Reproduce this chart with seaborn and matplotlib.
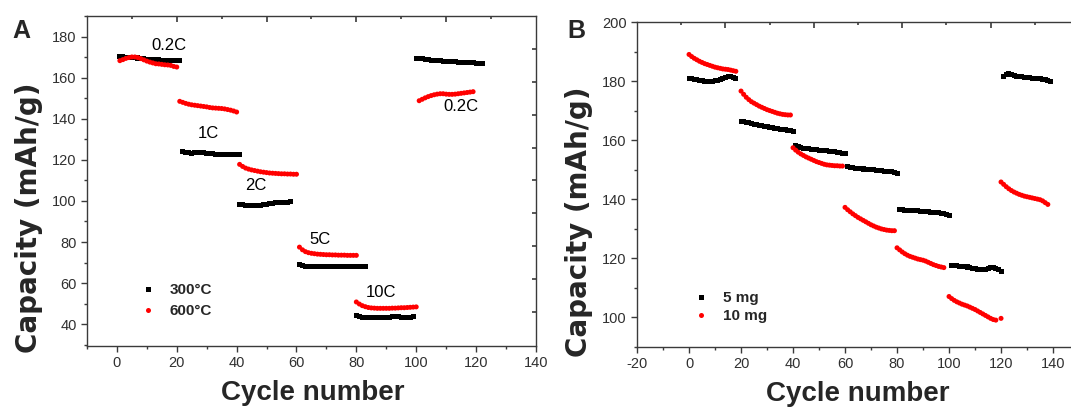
import numpy as np
import pandas as pd
import matplotlib
matplotlib.use("Agg")
import matplotlib.pyplot as plt
from matplotlib.lines import Line2D
from matplotlib.ticker import MultipleLocator, FixedLocator
import seaborn as sns

# ---------------- Panel A: rate capability, two annealing temperatures ----------------
a_labels = ["300°C", "600°C"]
a_colors = ["black", "red"]
a_markers = ["s", "o"]

# 300 °C sample: (first cycle, capacities) per current-rate step
a300_starts = [1, 22, 41, 61, 80, 100]
a300_caps = [
    [170.2, 170.1, 170.0, 170.0, 169.9, 169.8, 169.6, 169.5, 169.3, 169.1, 169.0,
     168.9, 168.8, 168.7, 168.6, 168.6, 168.5, 168.5, 168.4, 168.4, 168.3],
    [124.0, 123.8, 123.5, 123.3, 123.5, 123.7, 123.8, 123.6, 123.3, 123.0, 123.0,
     122.8, 122.6, 122.5, 122.6, 122.7, 122.6, 122.5, 122.5, 122.5],
    [98.5, 98.2, 98.0, 97.8, 97.7, 97.7, 97.8, 98.0, 98.2, 98.4, 98.6, 98.8, 99.0,
     99.1, 99.2, 99.3, 99.4, 99.6],
    [69.2, 68.6, 68.3, 68.1, 68.0, 68.0, 67.9, 67.9, 67.9, 67.9, 67.9, 67.9, 67.9,
     68.0, 68.0, 68.0, 68.0, 68.0, 68.1, 68.2, 68.3, 68.3, 68.3],
    [44.3, 43.8, 43.4, 43.2, 43.1, 43.0, 43.0, 43.1, 43.2, 43.3, 43.3, 43.4, 43.6,
     43.7, 43.6, 43.3, 43.0, 43.2, 43.4, 43.5],
    [169.5, 169.4, 169.3, 169.1, 169.0, 168.6, 168.4, 168.3, 168.2, 168.1, 168.0,
     167.9, 167.8, 167.7, 167.6, 167.5, 167.4, 167.3, 167.2, 167.2, 167.1, 167.0, 166.9],
]

# 600 °C sample
a600_starts = [1, 21, 41, 61, 80, 101]
a600_caps = [
    [168.3, 168.8, 169.4, 169.8, 170.1, 170.1, 169.8, 169.3, 168.7, 168.1, 167.6,
     167.2, 166.8, 166.7, 166.5, 166.3, 166.2, 166.0, 165.5, 165.2],
    [148.5, 148.0, 147.5, 147.1, 146.8, 146.6, 146.4, 146.2, 146.0, 145.8, 145.5,
     145.3, 145.2, 145.1, 145.0, 144.8, 144.5, 144.2, 143.8, 143.3],
    [117.8, 116.8, 116.0, 115.5, 115.1, 114.8, 114.5, 114.2, 114.0, 113.8, 113.6,
     113.5, 113.4, 113.3, 113.2, 113.2, 113.1, 113.1, 113.0, 113.0],
    [77.5, 76.2, 75.3, 74.8, 74.5, 74.3, 74.1, 74.0, 73.9, 73.8, 73.8, 73.7, 73.7,
     73.6, 73.6, 73.6, 73.5, 73.5, 73.5, 73.5],
    [50.8, 49.8, 49.0, 48.5, 48.1, 47.9, 47.8, 47.7, 47.7, 47.7, 47.7, 47.7, 47.8,
     47.8, 47.9, 48.0, 48.0, 48.1, 48.2, 48.3, 48.4],
    [148.8, 149.5, 150.2, 150.8, 151.3, 151.7, 152.0, 152.2, 152.2, 152.0, 151.9,
     151.9, 152.0, 152.2, 152.4, 152.6, 152.8, 153.0, 153.2],
]

a_rate_text = ["0.2C", "1C", "2C", "5C", "10C", "0.2C"]
a_rate_x = [17.3, 30.7, 46.3, 68.0, 88.2, 115.0]
a_rate_y = [175.9, 132.7, 107.3, 81.0, 55.6, 146.0]

# mirrored tick positions on the top/right frame edges
a_top_major = [20, 50, 80, 110]
a_top_minor = [5, 35, 65, 95, 125]
a_right_ticks = [174, 158, 142, 126, 110, 94, 78, 62, 46]

# ---------------- Panel B: two mass loadings ----------------
b_labels = ["5 mg", "10 mg"]
b_colors = ["black", "red"]
b_markers = ["s", "o"]

b5_starts = [0, 20, 41, 61, 81, 101, 121]
b5_caps = [
    [181.0, 180.8, 180.6, 180.4, 180.2, 180.1, 180.0, 180.0, 180.0, 180.0, 180.1,
     180.3, 180.6, 180.9, 181.3, 181.6, 181.7, 181.3, 181.0],
    [166.4, 166.2, 166.0, 165.8, 165.6, 165.4, 165.3, 165.1, 164.9, 164.7, 164.5,
     164.3, 164.1, 163.9, 163.8, 163.7, 163.6, 163.5, 163.4, 163.1, 162.8],
    [158.0, 157.7, 157.5, 157.3, 157.1, 157.0, 156.9, 156.8, 156.7, 156.6, 156.5,
     156.4, 156.3, 156.2, 156.1, 156.0, 155.9, 155.7, 155.5, 155.3],
    [151.0, 150.8, 150.6, 150.5, 150.4, 150.3, 150.2, 150.1, 150.0, 150.0, 149.9,
     149.8, 149.7, 149.6, 149.5, 149.4, 149.3, 149.2, 149.1, 148.7],
    [136.5, 136.4, 136.3, 136.2, 136.2, 136.1, 136.0, 136.0, 135.9, 135.8, 135.8,
     135.7, 135.6, 135.5, 135.4, 135.3, 135.1, 135.0, 134.8, 134.6],
    [117.6, 117.5, 117.4, 117.3, 117.2, 117.1, 117.0, 116.8, 116.6, 116.4, 116.3,
     116.2, 116.2, 116.3, 116.5, 116.8, 116.9, 116.5, 116.0, 115.6],
    [181.7, 182.2, 182.4, 182.1, 181.8, 181.6, 181.5, 181.4, 181.3, 181.2, 181.1,
     181.0, 181.0, 180.9, 180.8, 180.6, 180.4, 180.2, 180.0],
]

b10_starts = [0, 20, 40, 60, 80, 100, 120, 120]
b10_caps = [
    [189.0, 188.3, 187.7, 187.2, 186.7, 186.3, 185.9, 185.6, 185.3, 185.0, 184.7,
     184.5, 184.3, 184.1, 184.0, 183.9, 183.7, 183.5, 183.3],
    [176.6, 175.5, 174.5, 173.7, 173.0, 172.5, 172.0, 171.5, 171.1, 170.7, 170.3,
     170.0, 169.7, 169.4, 169.1, 168.9, 168.7, 168.6, 168.5, 168.5],
    [157.4, 156.6, 155.9, 155.3, 154.8, 154.3, 153.9, 153.5, 153.1, 152.7, 152.4,
     152.1, 151.8, 151.6, 151.5, 151.4, 151.3, 151.3, 151.2, 151.2],
    [137.2, 136.4, 135.7, 135.0, 134.4, 133.8, 133.3, 132.8, 132.3, 131.8, 131.3,
     130.9, 130.5, 130.2, 129.9, 129.7, 129.5, 129.4, 129.3, 129.3],
    [123.5, 122.8, 122.1, 121.5, 121.0, 120.6, 120.3, 120.0, 119.7, 119.5, 119.3,
     119.0, 118.6, 118.2, 117.8, 117.5, 117.2, 117.0, 116.8],
    [107.0, 106.3, 105.7, 105.2, 104.8, 104.4, 104.1, 103.8, 103.4, 103.0, 102.6,
     102.1, 101.6, 101.1, 100.6, 100.1, 99.6, 99.2, 99.0],
    [99.6],
    [145.8, 145.0, 144.2, 143.5, 142.9, 142.4, 142.0, 141.6, 141.3, 141.0, 140.8,
     140.6, 140.4, 140.2, 140.0, 139.8, 139.4, 138.8, 138.2],
]

b_top_major = [14, 48, 82, 116]
b_top_minor = [-3, 31, 65, 99, 133]


def build_frame(series):
    rows = []
    for label, starts, caps in series:
        for s0, seg in zip(starts, caps):
            for i, v in enumerate(seg):
                rows.append((s0 + i, v, label))
    return pd.DataFrame(rows, columns=["cycle", "capacity", "sample"])


df_a = build_frame([(a_labels[0], a300_starts, a300_caps),
                    (a_labels[1], a600_starts, a600_caps)])
df_b = build_frame([(b_labels[0], b5_starts, b5_caps),
                    (b_labels[1], b10_starts, b10_caps)])

sns.set_theme(style="ticks")
plt.rcParams["font.family"] = ["Liberation Sans", "DejaVu Sans"]
plt.rcParams["axes.linewidth"] = 1.0
plt.rcParams["axes.unicode_minus"] = False

spine_col = "#3a3a3a"
tick_col = "#303030"
DPI = 100

fig = plt.figure(figsize=(10.71, 4.12), dpi=DPI)
ax_a = fig.add_axes([0.0812, 0.1609, 0.4192, 0.8010])
ax_b = fig.add_axes([0.5948, 0.1585, 0.4127, 0.7881])


def draw_panel(ax, df, labels, colors, markers):
    sns.scatterplot(data=df, x="cycle", y="capacity", hue="sample", style="sample",
                    hue_order=labels, style_order=labels,
                    palette=dict(zip(labels, colors)),
                    markers=dict(zip(labels, markers)),
                    s=13, linewidth=0, legend=False, ax=ax, zorder=3)


def style_axes(ax):
    for sp in ax.spines.values():
        sp.set_color(spine_col)
        sp.set_linewidth(1.0)
    ax.tick_params(axis="both", which="both", direction="out", colors=spine_col,
                   labelcolor=tick_col, labelsize=10.5, top=False, right=False,
                   bottom=True, left=True)
    ax.tick_params(axis="both", which="major", length=4, width=1.0, pad=3.5)
    ax.tick_params(axis="both", which="minor", length=2.5, width=1.0)
    ax.set_xlabel("Cycle number", fontsize=20, fontweight="bold",
                  family="Liberation Sans")
    ax.set_ylabel("Capacity (mAh/g)", fontsize=20, fontweight="bold",
                  family="DejaVu Sans")


def top_ticks(ax, positions, length_px):
    # inward tick marks hanging from the top frame edge
    h = length_px / (ax.get_position().height * fig.get_figheight() * DPI)
    ax.vlines(positions, 1 - h, 1, transform=ax.get_xaxis_transform(),
              colors=spine_col, linewidth=1.2, clip_on=False, zorder=4)


def right_ticks(ax, positions, length_px):
    # inward tick marks on the right frame edge
    w = length_px / (ax.get_position().width * fig.get_figwidth() * DPI)
    ax.hlines(positions, 1 - w, 1, transform=ax.get_yaxis_transform(),
              colors=spine_col, linewidth=1.2, clip_on=False, zorder=4)


# ---- Panel A ----
draw_panel(ax_a, df_a, a_labels, a_colors, a_markers)
ax_a.set_xlim(-10, 140)
ax_a.set_ylim(29.5, 190.2)
ax_a.xaxis.set_major_locator(MultipleLocator(20))
ax_a.xaxis.set_minor_locator(MultipleLocator(10))
ax_a.yaxis.set_major_locator(FixedLocator([40, 60, 80, 100, 120, 140, 160, 180]))
ax_a.yaxis.set_minor_locator(FixedLocator([30, 50, 70, 90, 110, 130, 150, 170, 190]))
style_axes(ax_a)
ax_a.xaxis.set_label_coords(0.502, -0.104)
ax_a.yaxis.set_label_coords(-0.098, 0.388)
top_ticks(ax_a, a_top_major, 6)
top_ticks(ax_a, a_top_minor, 3)
right_ticks(ax_a, a_right_ticks, 4)

for t, x, y in zip(a_rate_text, a_rate_x, a_rate_y):
    ax_a.text(x, y, t, fontsize=12, ha="center", va="center", color="black")

handles_a = [Line2D([], [], ls="none", marker=m, color=c, markersize=3.6,
                    markeredgewidth=0) for m, c in zip(a_markers, a_colors)]
ax_a.legend(handles_a, a_labels, loc="upper left",
            bbox_to_anchor=(0.101, 0.212), frameon=False, borderpad=0,
            handlelength=1.0, handletextpad=0.93, labelspacing=0.45,
            prop={"family": "Liberation Sans", "weight": "bold", "size": 11})

# ---- Panel B ----
draw_panel(ax_b, df_b, b_labels, b_colors, b_markers)
ax_b.set_xlim(-20, 150)
ax_b.set_ylim(90, 200)
ax_b.xaxis.set_major_locator(FixedLocator([-20, 0, 20, 40, 60, 80, 100, 120, 140]))
ax_b.xaxis.set_minor_locator(FixedLocator([-10, 10, 30, 50, 70, 90, 110, 130, 150]))
ax_b.yaxis.set_major_locator(FixedLocator([100, 120, 140, 160, 180, 200]))
ax_b.yaxis.set_minor_locator(FixedLocator([90, 110, 130, 150, 170, 190]))
style_axes(ax_b)
ax_b.spines["right"].set_visible(False)
ax_b.xaxis.set_label_coords(0.5, -0.107)
ax_b.yaxis.set_label_coords(-0.0995, 0.385)
top_ticks(ax_b, b_top_major, 6)
top_ticks(ax_b, b_top_minor, 3)

handles_b = [Line2D([], [], ls="none", marker=m, color=c, markersize=3.6,
                    markeredgewidth=0) for m, c in zip(b_markers, b_colors)]
ax_b.legend(handles_b, b_labels, loc="upper left",
            bbox_to_anchor=(0.1097, 0.194), frameon=False, borderpad=0,
            handlelength=1.0, handletextpad=0.93, labelspacing=0.25,
            prop={"family": "Liberation Sans", "weight": "bold", "size": 11})

# panel letters
fig.text(0.0112, 0.908, "A", fontsize=18, fontweight="bold", va="baseline",
         family="Liberation Sans")
fig.text(0.530, 0.908, "B", fontsize=18, fontweight="bold", va="baseline",
         family="Liberation Sans")

fig.savefig("out.png", dpi=DPI)
